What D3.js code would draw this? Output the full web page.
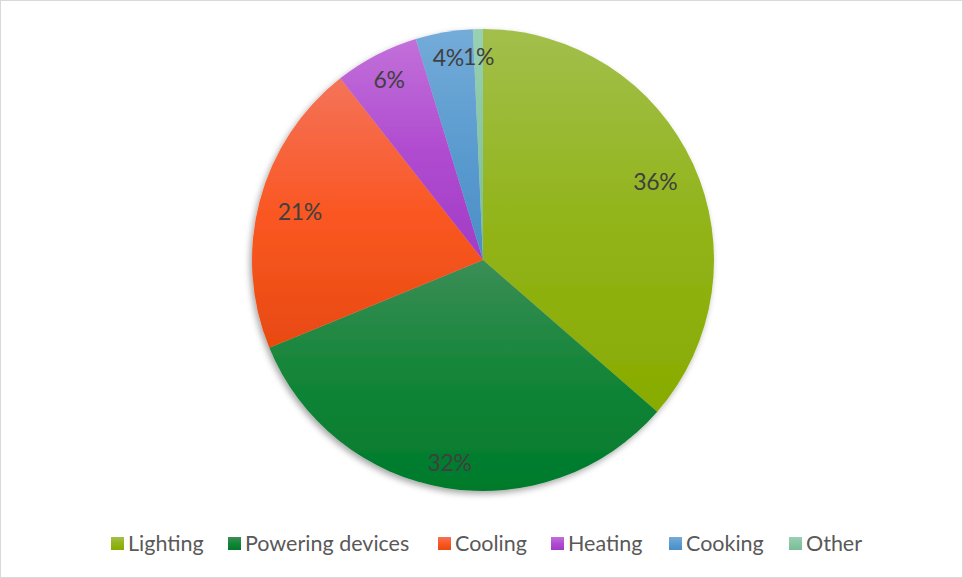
<!DOCTYPE html>
<html><head><meta charset="utf-8">
<script src="https://cdn.jsdelivr.net/npm/d3@7"></script>
<style>body{margin:0;background:#fff}svg{display:block}</style>
</head><body>
<svg id="c" width="963" height="578"></svg>
<script>
const categories = ["Lighting","Powering devices","Cooling","Heating","Cooking","Other"];
const values = [36.4, 32.4, 20.6, 5.9, 4.0, 0.7];
const labels = ["36%","32%","21%","6%","4%","1%"];
const colorsTop = ["#a2bf4c","#3b8e56","#f4735a","#c270da","#74abd9","#98d0b4"];
const colorsMid = ["#92b41a","#138538","#fa5722","#b04cd0","#5b9cd0","#88c6a4"];
const colorsBottom = ["#88ab00","#007a2b","#e84a10","#a23bc6","#4a8ec6","#7abd96"];

const W = 963, H = 578;
const svg = d3.select("#c");
svg.append("rect").attr("x",0.5).attr("y",0.5).attr("width",W-1).attr("height",H-1)
  .attr("fill","#fff").attr("stroke","#d9d9d9");

const defs = svg.append("defs");
const f = defs.append("filter").attr("id","sh").attr("x","-20%").attr("y","-20%").attr("width","140%").attr("height","140%");
f.append("feDropShadow").attr("dx",-2).attr("dy",3).attr("stdDeviation",3).attr("flood-color","#000").attr("flood-opacity",0.35);
categories.forEach((c,i)=>{
  const g = defs.append("linearGradient").attr("id","g"+i).attr("x1",0).attr("y1",0).attr("x2",0).attr("y2",1);
  g.append("stop").attr("offset","0%").attr("stop-color",colorsTop[i]);
  g.append("stop").attr("offset","50%").attr("stop-color",colorsMid[i]);
  g.append("stop").attr("offset","100%").attr("stop-color",colorsBottom[i]);
});

const cx = 483, cy = 260, r = 231;
const pie = d3.pie().sort(null).value(d=>d)(values);
const arc = d3.arc().innerRadius(0).outerRadius(r);
const g = svg.append("g").attr("transform",`translate(${cx},${cy})`);
const shadowG = g.append("g").attr("filter","url(#sh)");
shadowG.selectAll("path").data(pie).join("path")
  .attr("d",arc).attr("fill",(d,i)=>`url(#g${i})`);

const labelR = [0.82,0.89,0.82,0.88,0.89,0.88];
g.selectAll("text.lab").data(pie).join("text").attr("class","lab")
  .attr("transform",(d,i)=>{
    const a = d3.arc().innerRadius(r*labelR[i]).outerRadius(r*labelR[i]);
    const [x,y] = a.centroid(d);
    return `translate(${x},${y})`;
  })
  .attr("text-anchor","middle").attr("dy","0.36em")
  .attr("font-family","Lato, 'Open Sans', sans-serif").attr("font-size",23)
  .attr("letter-spacing",-0.3)
  .attr("fill","#404040").text((d,i)=>labels[i]);

// legend
const legX = [111,228,438,551,669,789];
const leg = svg.append("g").attr("transform","translate(0,551)");
const items = leg.selectAll("g").data(categories).join("g")
  .attr("transform",(d,i)=>`translate(${legX[i]},0)`);
items.append("rect").attr("x",0).attr("y",-14).attr("width",13).attr("height",13)
  .attr("fill",(d,i)=>`url(#g${i})`);
items.append("text").attr("x",17).attr("y",0)
  .attr("font-family","Lato, 'Open Sans', sans-serif").attr("font-size",21.5)
  .attr("fill","#595959").text(d=>d);
</script>
</body></html>
